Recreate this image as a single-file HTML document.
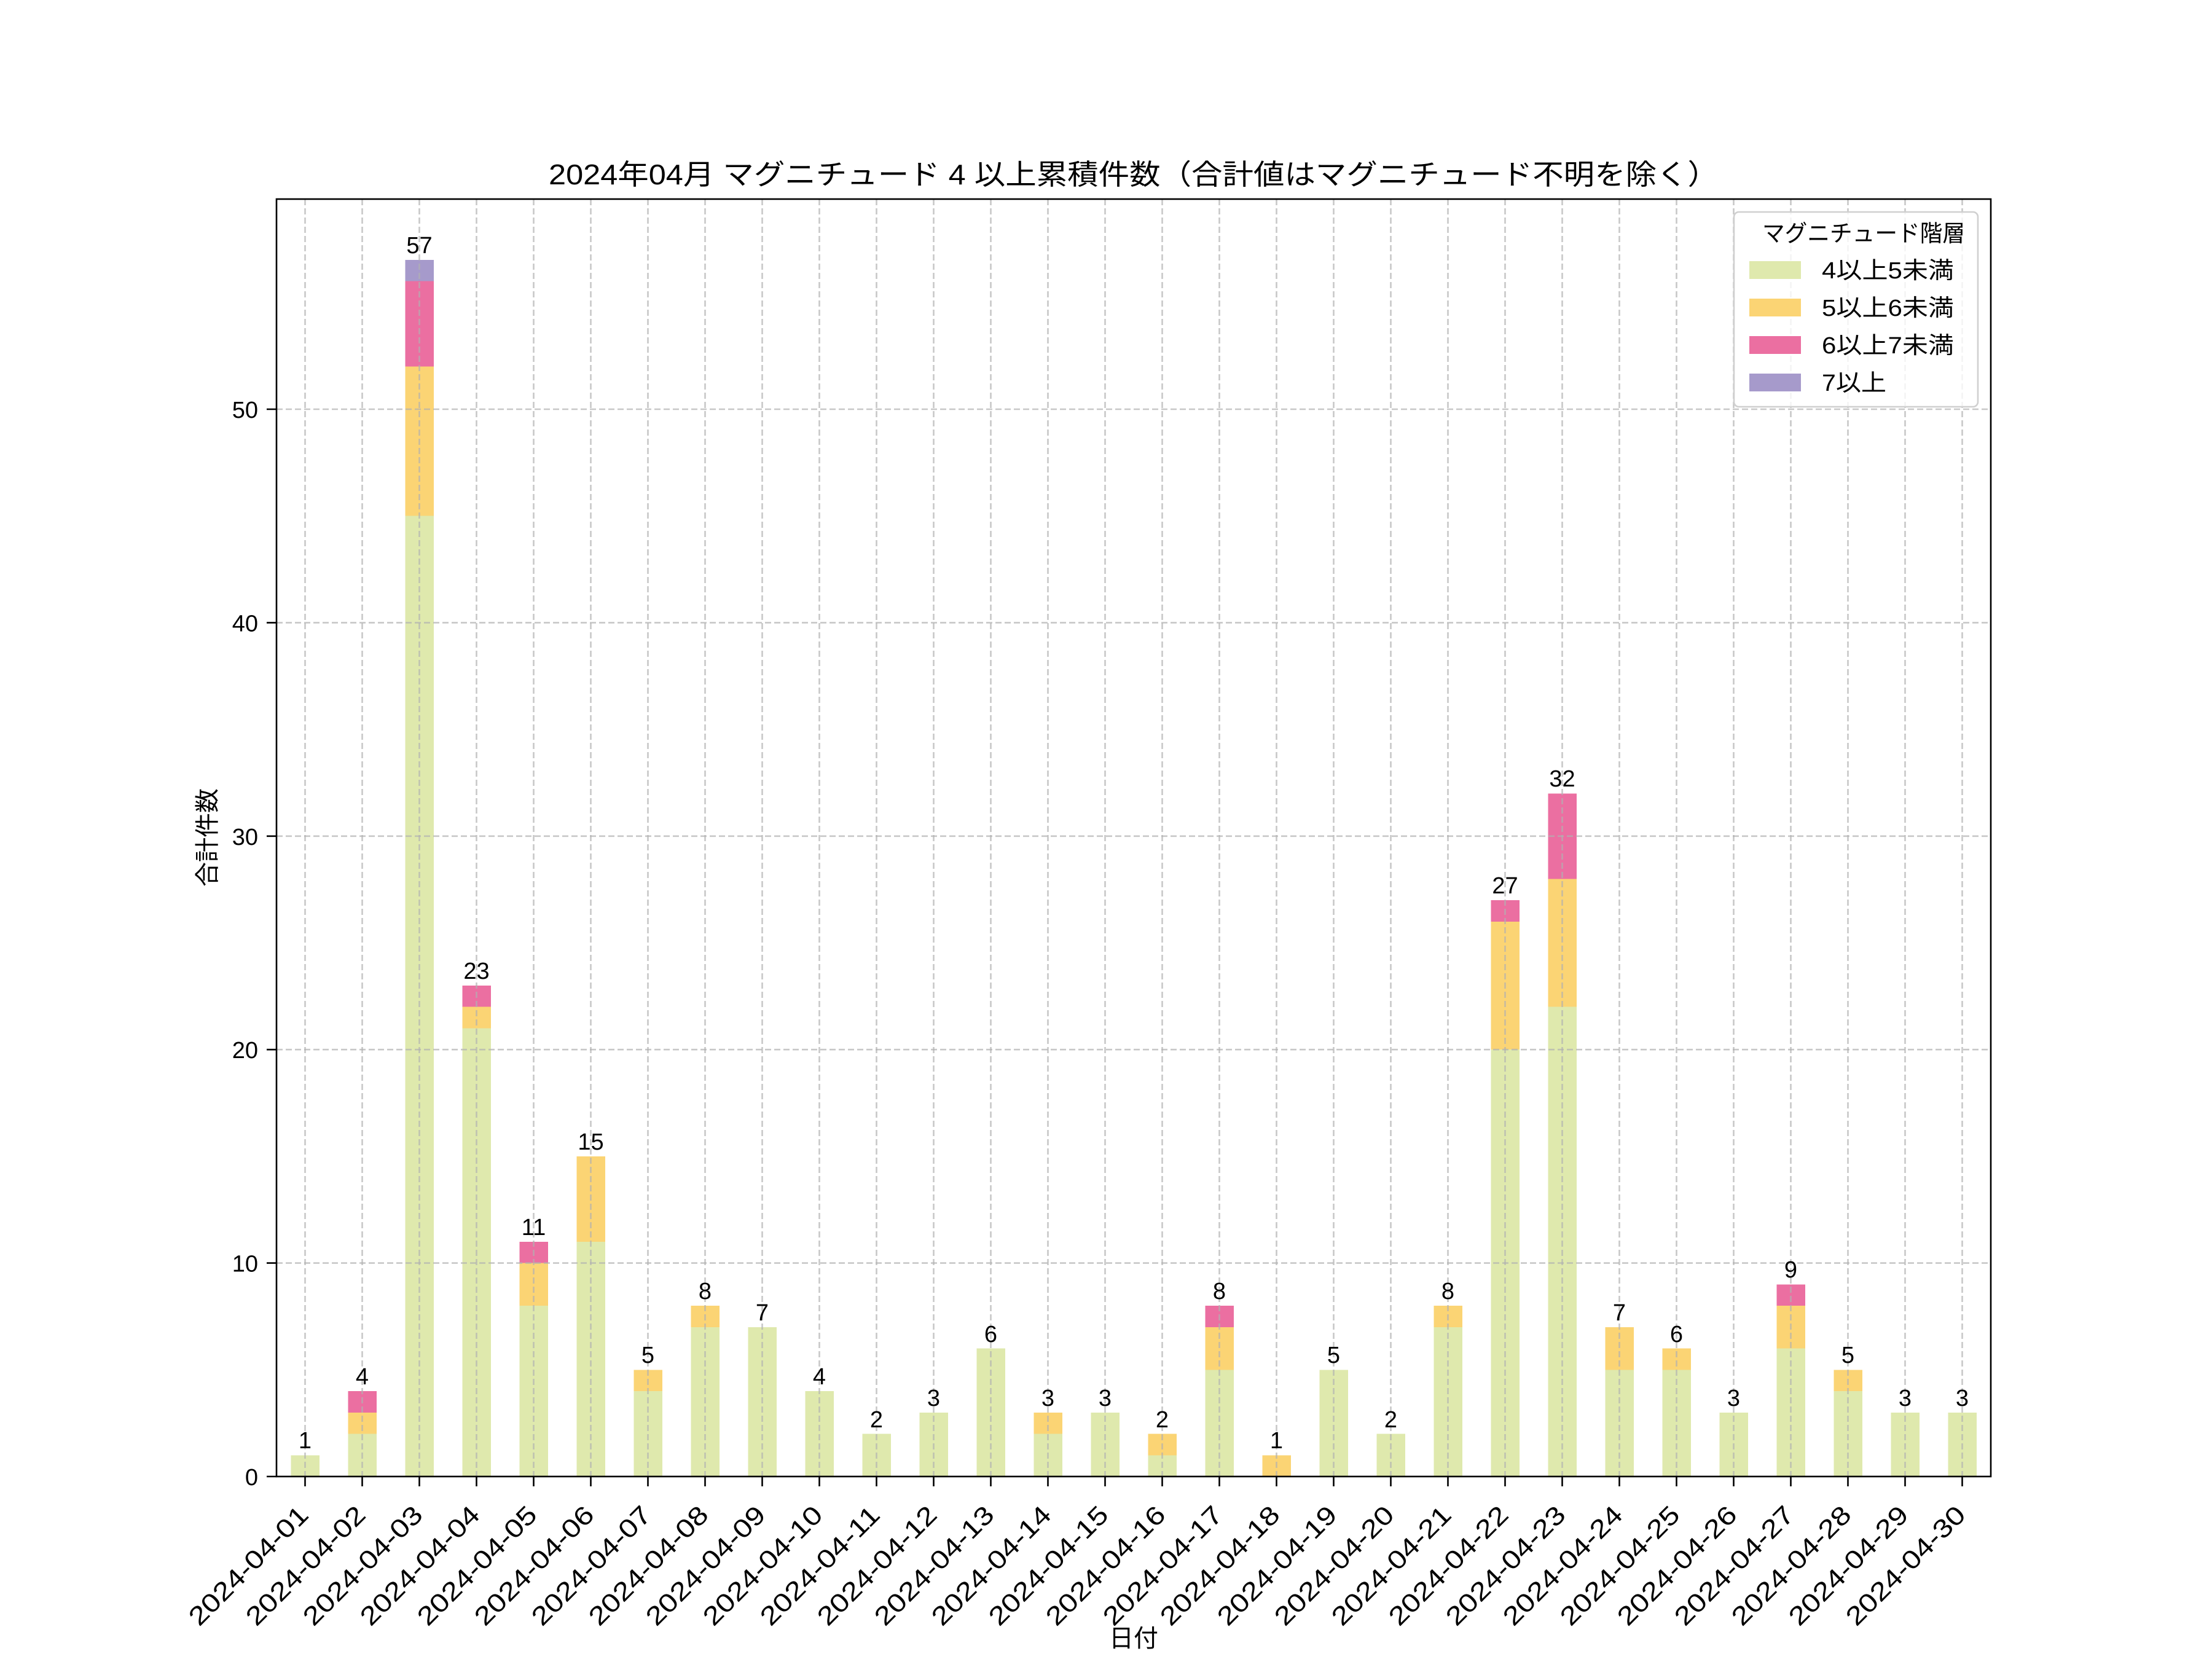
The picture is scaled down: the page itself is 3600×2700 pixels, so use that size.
<!DOCTYPE html>
<html><head><meta charset="utf-8"><style>
html,body{margin:0;padding:0;background:#fff}
svg{display:block}
text{font-family:"Liberation Sans","Noto Sans CJK JP",sans-serif;fill:#000}
</style></head><body>
<svg width="3600" height="2700" viewBox="0 0 3600 2700" xmlns="http://www.w3.org/2000/svg">
<rect width="3600" height="2700" fill="#fff"/>
<g transform="translate(496.5 2403) scale(93 -34.74)" shape-rendering="crispEdges">
<g fill="#dfe9ad">
<rect x="-0.25" y="0" width="0.5" height="1"/>
<rect x="0.75" y="0" width="0.5" height="2"/>
<rect x="1.75" y="0" width="0.5" height="45"/>
<rect x="2.75" y="0" width="0.5" height="21"/>
<rect x="3.75" y="0" width="0.5" height="8"/>
<rect x="4.75" y="0" width="0.5" height="11"/>
<rect x="5.75" y="0" width="0.5" height="4"/>
<rect x="6.75" y="0" width="0.5" height="7"/>
<rect x="7.75" y="0" width="0.5" height="7"/>
<rect x="8.75" y="0" width="0.5" height="4"/>
<rect x="9.75" y="0" width="0.5" height="2"/>
<rect x="10.75" y="0" width="0.5" height="3"/>
<rect x="11.75" y="0" width="0.5" height="6"/>
<rect x="12.75" y="0" width="0.5" height="2"/>
<rect x="13.75" y="0" width="0.5" height="3"/>
<rect x="14.75" y="0" width="0.5" height="1"/>
<rect x="15.75" y="0" width="0.5" height="5"/>
<rect x="17.75" y="0" width="0.5" height="5"/>
<rect x="18.75" y="0" width="0.5" height="2"/>
<rect x="19.75" y="0" width="0.5" height="7"/>
<rect x="20.75" y="0" width="0.5" height="20"/>
<rect x="21.75" y="0" width="0.5" height="22"/>
<rect x="22.75" y="0" width="0.5" height="5"/>
<rect x="23.75" y="0" width="0.5" height="5"/>
<rect x="24.75" y="0" width="0.5" height="3"/>
<rect x="25.75" y="0" width="0.5" height="6"/>
<rect x="26.75" y="0" width="0.5" height="4"/>
<rect x="27.75" y="0" width="0.5" height="3"/>
<rect x="28.75" y="0" width="0.5" height="3"/>
</g>
<g fill="#fbd474">
<rect x="0.75" y="2" width="0.5" height="1"/>
<rect x="1.75" y="45" width="0.5" height="7"/>
<rect x="2.75" y="21" width="0.5" height="1"/>
<rect x="3.75" y="8" width="0.5" height="2"/>
<rect x="4.75" y="11" width="0.5" height="4"/>
<rect x="5.75" y="4" width="0.5" height="1"/>
<rect x="6.75" y="7" width="0.5" height="1"/>
<rect x="12.75" y="2" width="0.5" height="1"/>
<rect x="14.75" y="1" width="0.5" height="1"/>
<rect x="15.75" y="5" width="0.5" height="2"/>
<rect x="16.75" y="0" width="0.5" height="1"/>
<rect x="19.75" y="7" width="0.5" height="1"/>
<rect x="20.75" y="20" width="0.5" height="6"/>
<rect x="21.75" y="22" width="0.5" height="6"/>
<rect x="22.75" y="5" width="0.5" height="2"/>
<rect x="23.75" y="5" width="0.5" height="1"/>
<rect x="25.75" y="6" width="0.5" height="2"/>
<rect x="26.75" y="4" width="0.5" height="1"/>
</g>
<g fill="#eb6fa1">
<rect x="0.75" y="3" width="0.5" height="1"/>
<rect x="1.75" y="52" width="0.5" height="4"/>
<rect x="2.75" y="22" width="0.5" height="1"/>
<rect x="3.75" y="10" width="0.5" height="1"/>
<rect x="15.75" y="7" width="0.5" height="1"/>
<rect x="20.75" y="26" width="0.5" height="1"/>
<rect x="21.75" y="28" width="0.5" height="4"/>
<rect x="25.75" y="8" width="0.5" height="1"/>
</g>
<g fill="#a69acb">
<rect x="1.75" y="56" width="0.5" height="1"/>
</g>
</g>
<g stroke="#b0b0b0" stroke-opacity="0.7" stroke-width="2.6" stroke-dasharray="10 5" fill="none">
<path d="M450 2055.6H3240M450 1708.2H3240M450 1360.8H3240M450 1013.4H3240M450 666H3240"/>
<path d="M496.5 324V2403M589.5 324V2403M682.5 324V2403M775.5 324V2403M868.5 324V2403M961.5 324V2403M1054.5 324V2403M1147.5 324V2403M1240.5 324V2403M1333.5 324V2403M1426.5 324V2403M1519.5 324V2403M1612.5 324V2403M1705.5 324V2403M1798.5 324V2403M1891.5 324V2403M1984.5 324V2403M2077.5 324V2403M2170.5 324V2403M2263.5 324V2403M2356.5 324V2403M2449.5 324V2403M2542.5 324V2403M2635.5 324V2403M2728.5 324V2403M2821.5 324V2403M2914.5 324V2403M3007.5 324V2403M3100.5 324V2403M3193.5 324V2403"/>
</g>
<rect x="450" y="324" width="2790" height="2079" fill="none" stroke="#000" stroke-width="2.6"/>
<g stroke="#000" stroke-width="2.6">
<path d="M434 2403H450M434 2055.6H450M434 1708.2H450M434 1360.8H450M434 1013.4H450M434 666H450"/>
<path d="M496.5 2403v16M589.5 2403v16M682.5 2403v16M775.5 2403v16M868.5 2403v16M961.5 2403v16M1054.5 2403v16M1147.5 2403v16M1240.5 2403v16M1333.5 2403v16M1426.5 2403v16M1519.5 2403v16M1612.5 2403v16M1705.5 2403v16M1798.5 2403v16M1891.5 2403v16M1984.5 2403v16M2077.5 2403v16M2170.5 2403v16M2263.5 2403v16M2356.5 2403v16M2449.5 2403v16M2542.5 2403v16M2635.5 2403v16M2728.5 2403v16M2821.5 2403v16M2914.5 2403v16M3007.5 2403v16M3100.5 2403v16M3193.5 2403v16"/>
</g>
<g font-size="38" text-anchor="end">
<text x="420" y="2417">0</text>
<text x="420" y="2069.6">10</text>
<text x="420" y="1722.2">20</text>
<text x="420" y="1374.8">30</text>
<text x="420" y="1027.4">40</text>
<text x="420" y="680">50</text>
</g>
<g font-size="42" text-anchor="end">
<text transform="translate(504.5 2468) rotate(-45)" textLength="255" lengthAdjust="spacingAndGlyphs">2024-04-01</text>
<text transform="translate(597.5 2468) rotate(-45)" textLength="255" lengthAdjust="spacingAndGlyphs">2024-04-02</text>
<text transform="translate(690.5 2468) rotate(-45)" textLength="255" lengthAdjust="spacingAndGlyphs">2024-04-03</text>
<text transform="translate(783.5 2468) rotate(-45)" textLength="255" lengthAdjust="spacingAndGlyphs">2024-04-04</text>
<text transform="translate(876.5 2468) rotate(-45)" textLength="255" lengthAdjust="spacingAndGlyphs">2024-04-05</text>
<text transform="translate(969.5 2468) rotate(-45)" textLength="255" lengthAdjust="spacingAndGlyphs">2024-04-06</text>
<text transform="translate(1062.5 2468) rotate(-45)" textLength="255" lengthAdjust="spacingAndGlyphs">2024-04-07</text>
<text transform="translate(1155.5 2468) rotate(-45)" textLength="255" lengthAdjust="spacingAndGlyphs">2024-04-08</text>
<text transform="translate(1248.5 2468) rotate(-45)" textLength="255" lengthAdjust="spacingAndGlyphs">2024-04-09</text>
<text transform="translate(1341.5 2468) rotate(-45)" textLength="255" lengthAdjust="spacingAndGlyphs">2024-04-10</text>
<text transform="translate(1434.5 2468) rotate(-45)" textLength="255" lengthAdjust="spacingAndGlyphs">2024-04-11</text>
<text transform="translate(1527.5 2468) rotate(-45)" textLength="255" lengthAdjust="spacingAndGlyphs">2024-04-12</text>
<text transform="translate(1620.5 2468) rotate(-45)" textLength="255" lengthAdjust="spacingAndGlyphs">2024-04-13</text>
<text transform="translate(1713.5 2468) rotate(-45)" textLength="255" lengthAdjust="spacingAndGlyphs">2024-04-14</text>
<text transform="translate(1806.5 2468) rotate(-45)" textLength="255" lengthAdjust="spacingAndGlyphs">2024-04-15</text>
<text transform="translate(1899.5 2468) rotate(-45)" textLength="255" lengthAdjust="spacingAndGlyphs">2024-04-16</text>
<text transform="translate(1992.5 2468) rotate(-45)" textLength="255" lengthAdjust="spacingAndGlyphs">2024-04-17</text>
<text transform="translate(2085.5 2468) rotate(-45)" textLength="255" lengthAdjust="spacingAndGlyphs">2024-04-18</text>
<text transform="translate(2178.5 2468) rotate(-45)" textLength="255" lengthAdjust="spacingAndGlyphs">2024-04-19</text>
<text transform="translate(2271.5 2468) rotate(-45)" textLength="255" lengthAdjust="spacingAndGlyphs">2024-04-20</text>
<text transform="translate(2364.5 2468) rotate(-45)" textLength="255" lengthAdjust="spacingAndGlyphs">2024-04-21</text>
<text transform="translate(2457.5 2468) rotate(-45)" textLength="255" lengthAdjust="spacingAndGlyphs">2024-04-22</text>
<text transform="translate(2550.5 2468) rotate(-45)" textLength="255" lengthAdjust="spacingAndGlyphs">2024-04-23</text>
<text transform="translate(2643.5 2468) rotate(-45)" textLength="255" lengthAdjust="spacingAndGlyphs">2024-04-24</text>
<text transform="translate(2736.5 2468) rotate(-45)" textLength="255" lengthAdjust="spacingAndGlyphs">2024-04-25</text>
<text transform="translate(2829.5 2468) rotate(-45)" textLength="255" lengthAdjust="spacingAndGlyphs">2024-04-26</text>
<text transform="translate(2922.5 2468) rotate(-45)" textLength="255" lengthAdjust="spacingAndGlyphs">2024-04-27</text>
<text transform="translate(3015.5 2468) rotate(-45)" textLength="255" lengthAdjust="spacingAndGlyphs">2024-04-28</text>
<text transform="translate(3108.5 2468) rotate(-45)" textLength="255" lengthAdjust="spacingAndGlyphs">2024-04-29</text>
<text transform="translate(3201.5 2468) rotate(-45)" textLength="255" lengthAdjust="spacingAndGlyphs">2024-04-30</text>
</g>
<g font-size="38" text-anchor="middle">
<text x="496.5" y="2357">1</text>
<text x="589.5" y="2253">4</text>
<text x="682.5" y="412">57</text>
<text x="775.5" y="1593">23</text>
<text x="868.5" y="2010">11</text>
<text x="961.5" y="1871">15</text>
<text x="1054.5" y="2218">5</text>
<text x="1147.5" y="2114">8</text>
<text x="1240.5" y="2149">7</text>
<text x="1333.5" y="2253">4</text>
<text x="1426.5" y="2323">2</text>
<text x="1519.5" y="2288">3</text>
<text x="1612.5" y="2184">6</text>
<text x="1705.5" y="2288">3</text>
<text x="1798.5" y="2288">3</text>
<text x="1891.5" y="2323">2</text>
<text x="1984.5" y="2114">8</text>
<text x="2077.5" y="2357">1</text>
<text x="2170.5" y="2218">5</text>
<text x="2263.5" y="2323">2</text>
<text x="2356.5" y="2114">8</text>
<text x="2449.5" y="1454">27</text>
<text x="2542.5" y="1280">32</text>
<text x="2635.5" y="2149">7</text>
<text x="2728.5" y="2184">6</text>
<text x="2821.5" y="2288">3</text>
<text x="2914.5" y="2079">9</text>
<text x="3007.5" y="2218">5</text>
<text x="3100.5" y="2288">3</text>
<text x="3193.5" y="2288">3</text>
</g>
<text x="1845" y="300" font-size="46" text-anchor="middle" textLength="1904" lengthAdjust="spacingAndGlyphs">2024年04月 マグニチュード 4 以上累積件数（合計値はマグニチュード不明を除く）</text>
<text transform="translate(351 1363) rotate(-90)" font-size="40" text-anchor="middle">合計件数</text>
<text x="1845" y="2680" font-size="40" text-anchor="middle">日付</text>
<rect x="2822" y="345" width="397" height="317" rx="8" fill="#fff" fill-opacity="0.8" stroke="#d0d0d0" stroke-width="2.6"/>
<text x="2868" y="393" font-size="38" textLength="330" lengthAdjust="spacingAndGlyphs">マグニチュード階層</text>
<rect x="2847" y="425" width="84" height="29" fill="#dfe9ad"/>
<rect x="2847" y="486" width="84" height="29" fill="#fbd474"/>
<rect x="2847" y="547" width="84" height="29" fill="#eb6fa1"/>
<rect x="2847" y="608" width="84" height="29" fill="#a69acb"/>
<g font-size="38">
<text x="2965" y="453" textLength="215" lengthAdjust="spacingAndGlyphs">4以上5未満</text>
<text x="2965" y="514" textLength="215" lengthAdjust="spacingAndGlyphs">5以上6未満</text>
<text x="2965" y="575" textLength="215" lengthAdjust="spacingAndGlyphs">6以上7未満</text>
<text x="2965" y="636" textLength="105" lengthAdjust="spacingAndGlyphs">7以上</text>
</g>
</svg>
</body></html>
